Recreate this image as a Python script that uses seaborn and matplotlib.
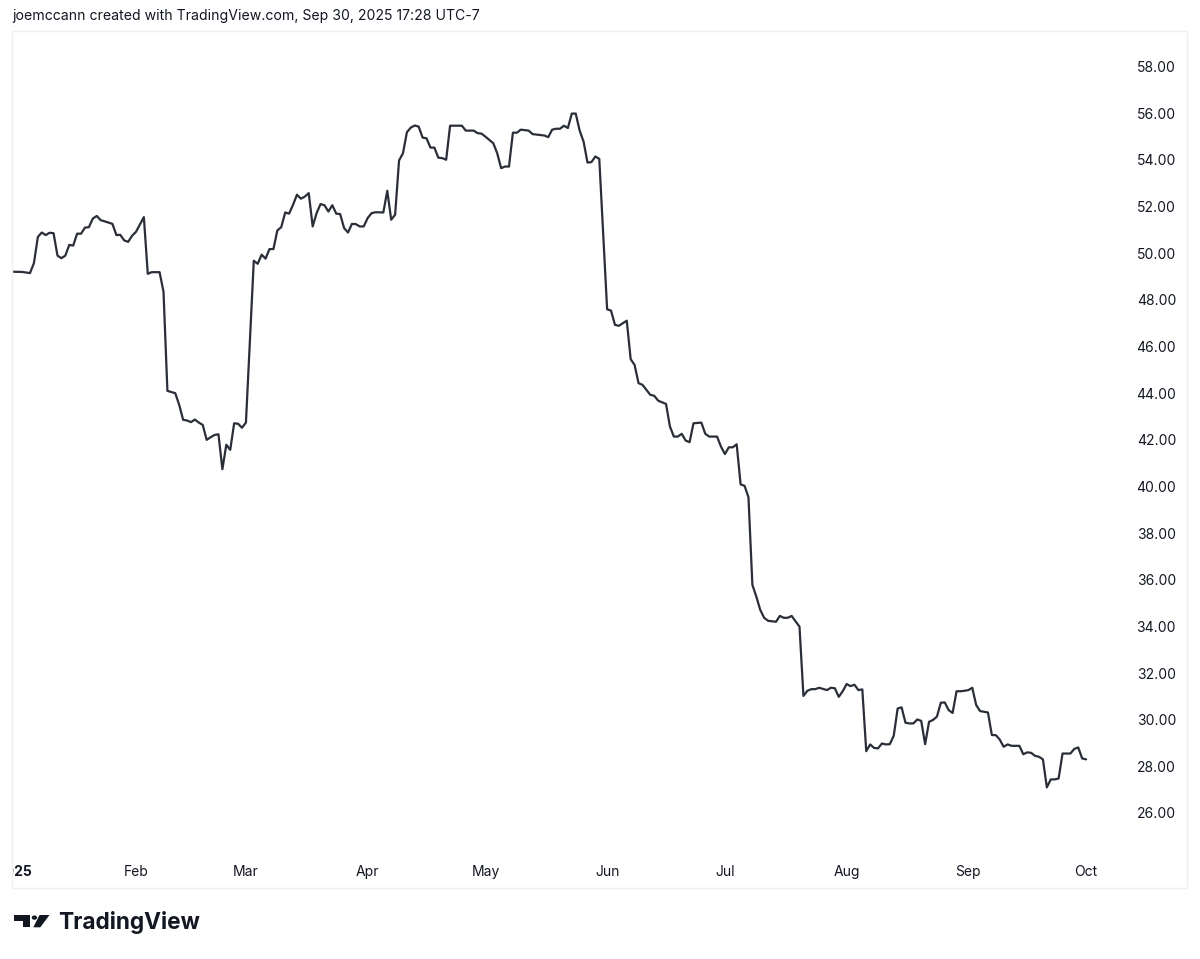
import matplotlib
matplotlib.use("Agg")
import matplotlib.pyplot as plt
import matplotlib.dates as mdates
from matplotlib.patches import Rectangle, Polygon, Circle
from matplotlib.transforms import Bbox, TransformedBbox
import seaborn as sns
import pandas as pd

# ---------------- data ----------------
dates = [
    "2024-12-31", "2025-01-03", "2025-01-05", "2025-01-06", "2025-01-07", "2025-01-08", "2025-01-09", "2025-01-10", "2025-01-11", "2025-01-12",
    "2025-01-13", "2025-01-14", "2025-01-15", "2025-01-16", "2025-01-17", "2025-01-18", "2025-01-19", "2025-01-20", "2025-01-21", "2025-01-22",
    "2025-01-23", "2025-01-24", "2025-01-26", "2025-01-27", "2025-01-28", "2025-01-29", "2025-01-30", "2025-01-31", "2025-02-01", "2025-02-03",
    "2025-02-04", "2025-02-05", "2025-02-07", "2025-02-08", "2025-02-09", "2025-02-11", "2025-02-12", "2025-02-13", "2025-02-14", "2025-02-15",
    "2025-02-16", "2025-02-17", "2025-02-18", "2025-02-19", "2025-02-20", "2025-02-21", "2025-02-22", "2025-02-23", "2025-02-24", "2025-02-25",
    "2025-02-26", "2025-02-27", "2025-02-28", "2025-03-01", "2025-03-03", "2025-03-04", "2025-03-05", "2025-03-06", "2025-03-07", "2025-03-08",
    "2025-03-09", "2025-03-10", "2025-03-11", "2025-03-12", "2025-03-13", "2025-03-14", "2025-03-15", "2025-03-16", "2025-03-17", "2025-03-18",
    "2025-03-19", "2025-03-20", "2025-03-21", "2025-03-22", "2025-03-23", "2025-03-24", "2025-03-25", "2025-03-26", "2025-03-27", "2025-03-28",
    "2025-03-29", "2025-03-30", "2025-03-31", "2025-04-01", "2025-04-02", "2025-04-03", "2025-04-05", "2025-04-06", "2025-04-07", "2025-04-08",
    "2025-04-09", "2025-04-10", "2025-04-11", "2025-04-12", "2025-04-13", "2025-04-14", "2025-04-15", "2025-04-16", "2025-04-17", "2025-04-18",
    "2025-04-19", "2025-04-20", "2025-04-21", "2025-04-22", "2025-04-23", "2025-04-25", "2025-04-26", "2025-04-28", "2025-04-29", "2025-04-30",
    "2025-05-01", "2025-05-03", "2025-05-04", "2025-05-05", "2025-05-06", "2025-05-07", "2025-05-08", "2025-05-09", "2025-05-10", "2025-05-12",
    "2025-05-13", "2025-05-14", "2025-05-16", "2025-05-17", "2025-05-18", "2025-05-19", "2025-05-20", "2025-05-21", "2025-05-22", "2025-05-23",
    "2025-05-24", "2025-05-25", "2025-05-26", "2025-05-27", "2025-05-28", "2025-05-29", "2025-05-30", "2025-06-01", "2025-06-02", "2025-06-03",
    "2025-06-04", "2025-06-06", "2025-06-07", "2025-06-08", "2025-06-09", "2025-06-10", "2025-06-12", "2025-06-13", "2025-06-14", "2025-06-16",
    "2025-06-17", "2025-06-18", "2025-06-19", "2025-06-20", "2025-06-21", "2025-06-22", "2025-06-23", "2025-06-25", "2025-06-26", "2025-06-27",
    "2025-06-29", "2025-06-30", "2025-07-01", "2025-07-02", "2025-07-03", "2025-07-04", "2025-07-05", "2025-07-06", "2025-07-07", "2025-07-08",
    "2025-07-09", "2025-07-10", "2025-07-11", "2025-07-12", "2025-07-14", "2025-07-15", "2025-07-16", "2025-07-17", "2025-07-18", "2025-07-20",
    "2025-07-21", "2025-07-22", "2025-07-23", "2025-07-24", "2025-07-25", "2025-07-26", "2025-07-27", "2025-07-28", "2025-07-29", "2025-07-30",
    "2025-07-31", "2025-08-01", "2025-08-02", "2025-08-03", "2025-08-04", "2025-08-05", "2025-08-06", "2025-08-07", "2025-08-08", "2025-08-09",
    "2025-08-10", "2025-08-11", "2025-08-12", "2025-08-13", "2025-08-14", "2025-08-15", "2025-08-16", "2025-08-17", "2025-08-18", "2025-08-19",
    "2025-08-20", "2025-08-21", "2025-08-22", "2025-08-23", "2025-08-24", "2025-08-25", "2025-08-26", "2025-08-27", "2025-08-28", "2025-08-29",
    "2025-08-30", "2025-08-31", "2025-09-01", "2025-09-02", "2025-09-03", "2025-09-04", "2025-09-06", "2025-09-07", "2025-09-08", "2025-09-09",
    "2025-09-10", "2025-09-11", "2025-09-12", "2025-09-14", "2025-09-15", "2025-09-16", "2025-09-17", "2025-09-18", "2025-09-19", "2025-09-20",
    "2025-09-21", "2025-09-22", "2025-09-23", "2025-09-24", "2025-09-25", "2025-09-26", "2025-09-27", "2025-09-28", "2025-09-29", "2025-09-30",
    "2025-10-01",
]

close = [
    49.21, 49.20, 49.15, 49.58, 50.70, 50.89, 50.78, 50.88, 50.86, 49.90,
    49.79, 49.90, 50.36, 50.33, 50.84, 50.84, 51.10, 51.12, 51.49, 51.60,
    51.42, 51.37, 51.26, 50.78, 50.79, 50.55, 50.49, 50.75, 50.92, 51.55,
    49.12, 49.19, 49.19, 48.36, 44.10, 44.00, 43.50, 42.86, 42.83, 42.76,
    42.87, 42.74, 42.64, 42.00, 42.11, 42.21, 42.24, 40.74, 41.79, 41.57,
    42.71, 42.69, 42.52, 42.74, 49.68, 49.55, 49.94, 49.77, 50.18, 50.18,
    50.98, 51.12, 51.75, 51.70, 52.08, 52.51, 52.34, 52.43, 52.58, 51.15,
    51.72, 52.11, 52.06, 51.79, 52.06, 51.70, 51.68, 51.08, 50.89, 51.26,
    51.25, 51.15, 51.15, 51.51, 51.72, 51.76, 51.75, 52.68, 51.44, 51.65,
    53.98, 54.29, 55.19, 55.39, 55.48, 55.43, 54.96, 54.93, 54.53, 54.53,
    54.10, 54.08, 54.01, 55.47, 55.47, 55.47, 55.26, 55.26, 55.15, 55.13,
    55.00, 54.72, 54.29, 53.65, 53.72, 53.72, 55.17, 55.17, 55.30, 55.26,
    55.11, 55.09, 55.05, 54.98, 55.30, 55.34, 55.34, 55.47, 55.37, 55.99,
    55.99, 55.26, 54.79, 53.89, 53.91, 54.15, 54.05, 47.60, 47.54, 46.93,
    46.89, 47.11, 45.46, 45.21, 44.43, 44.36, 43.93, 43.89, 43.68, 43.54,
    42.57, 42.14, 42.14, 42.26, 41.97, 41.90, 42.71, 42.74, 42.26, 42.14,
    42.14, 41.71, 41.39, 41.68, 41.68, 41.81, 40.09, 40.03, 39.54, 35.78,
    35.28, 34.71, 34.37, 34.24, 34.20, 34.45, 34.37, 34.37, 34.45, 33.99,
    31.02, 31.24, 31.31, 31.31, 31.37, 31.32, 31.27, 31.37, 31.35, 30.98,
    31.22, 31.53, 31.44, 31.50, 31.27, 31.30, 28.65, 28.94, 28.79, 28.77,
    28.98, 28.94, 28.95, 29.31, 30.48, 30.53, 29.87, 29.84, 29.84, 30.01,
    29.95, 28.95, 29.91, 29.99, 30.13, 30.73, 30.74, 30.41, 30.29, 31.22,
    31.22, 31.24, 31.27, 31.37, 30.63, 30.37, 30.31, 29.34, 29.34, 29.15,
    28.84, 28.94, 28.88, 28.88, 28.52, 28.60, 28.58, 28.45, 28.41, 28.30,
    27.10, 27.44, 27.44, 27.48, 28.55, 28.55, 28.55, 28.75, 28.81, 28.34,
    28.30,
]

x_tick_dates = ["2025-01-01", "2025-02-01", "2025-03-01", "2025-04-01", "2025-05-01",
                "2025-06-01", "2025-07-01", "2025-08-01", "2025-09-01", "2025-10-01"]
x_tick_labels = ["2025", "Feb", "Mar", "Apr", "May", "Jun", "Jul", "Aug", "Sep", "Oct"]
y_ticks = [26, 28, 30, 32, 34, 36, 38, 40, 42, 44, 46, 48, 50, 52, 54, 56, 58]
header_text = "joemccann created with TradingView.com, Sep 30, 2025 17:28 UTC-7"
brand_text = "TradingView"

# ---------------- style ----------------
sns.set_theme(style="white")
plt.rcParams["font.family"] = ["Inter", "DejaVu Sans"]
TEXT = "#131722"
LINE = "#2a2e39"
FRAME = "#eceff3"

W, H = 1200, 959
fig = plt.figure(figsize=(W / 100, H / 100), dpi=100)
fig.patch.set_facecolor("white")

def fx(px):
    return px / W

def fy(py):
    return (H - py) / H

# pane frame
frame = Rectangle((fx(12), fy(888)), fx(1187) - fx(12), fy(31) - fy(888),
                  transform=fig.transFigure, fill=False, edgecolor=FRAME, linewidth=1.0)
fig.patches.append(frame)

# axes (plot pane)
ax_l, ax_r, ax_t, ax_b = 12, 1115, 31, 855
ax = fig.add_axes([fx(ax_l), fy(ax_b), fx(ax_r) - fx(ax_l), fy(ax_t) - fy(ax_b)])
ax.set_facecolor("none")

df = pd.DataFrame({"date": pd.to_datetime(dates), "close": close})
sns.lineplot(data=df, x="date", y="close", ax=ax, color=LINE, linewidth=1.6)

jan1 = mdates.date2num(pd.Timestamp("2025-01-01"))
px_per_day = 3.926
ax.set_xlim(jan1 - (14.3 - ax_l) / px_per_day, jan1 + (ax_r - 14.3) / px_per_day)
# y scale: 26 at y=813, 58 at y=66.7
ppu = (813 - 66.7) / 32.0
ax.set_ylim(26 - (ax_b - 813) / ppu, 58 + (66.7 - ax_t) / ppu)

for s in ax.spines.values():
    s.set_visible(False)
ax.grid(False)
ax.set_xlabel("")
ax.set_ylabel("")

ax.set_xticks(mdates.date2num(pd.to_datetime(x_tick_dates)))
ax.set_xticklabels(x_tick_labels)
ax.set_yticks(y_ticks)
ax.set_yticklabels([f"{v:.2f}" for v in y_ticks])

ax.tick_params(axis="x", length=0, pad=7.5, labelsize=10, labelcolor=TEXT)
ax.tick_params(axis="y", length=0, labelsize=10, labelcolor=TEXT,
               left=False, labelleft=False, right=True, labelright=True,
               pad=(1176 - ax_r) * 0.72)
for t in ax.get_yticklabels():
    t.set_horizontalalignment("right")

fig.canvas.draw()
clipbox = TransformedBbox(Bbox.from_extents(fx(12), fy(888), fx(1187), fy(31)), fig.transFigure)
xl = ax.xaxis.get_majorticklabels()
xl[0].set_fontweight("bold")
for t in xl:
    t.set_clip_box(clipbox)
    t.set_clip_on(True)
for t in ax.get_yticklabels():
    t.set_horizontalalignment("right")

# header
hdr = fig.text(fx(12), fy(16), header_text, ha="left", va="center",
               fontsize=11, color=TEXT)

# footer brand
brand = fig.text(fx(58), fy(928.5), brand_text, ha="left", va="baseline",
                 fontsize=15, fontweight="bold", color=TEXT)

def fit_width(t, target_px):
    fig.canvas.draw()
    r = fig.canvas.get_renderer()
    w = t.get_window_extent(r).width
    t.set_fontsize(t.get_fontsize() * target_px / w)

fit_width(hdr, 475 - 12)
fit_width(brand, 200 - 58)

# logo
def P(pts):
    return [(fx(a), fy(b)) for a, b in pts]

fig.patches.append(Polygon(P([(14.3, 915), (30, 915), (30, 927.3), (22.7, 927.3),
                              (22.7, 920.5), (14.3, 920.5)]), closed=True,
                           transform=fig.transFigure, facecolor=TEXT, edgecolor="none"))
fig.patches.append(Circle((fx(34.4), fy(917.6)), 2.7 / W, transform=fig.transFigure,
                          facecolor=TEXT, edgecolor="none"))
fig.patches.append(Polygon(P([(39.5, 915), (49.5, 915), (40.3, 927.3), (33.3, 927.3)]),
                           closed=True, transform=fig.transFigure,
                           facecolor=TEXT, edgecolor="none"))

fig.savefig("out.png", dpi=100, facecolor="white")
